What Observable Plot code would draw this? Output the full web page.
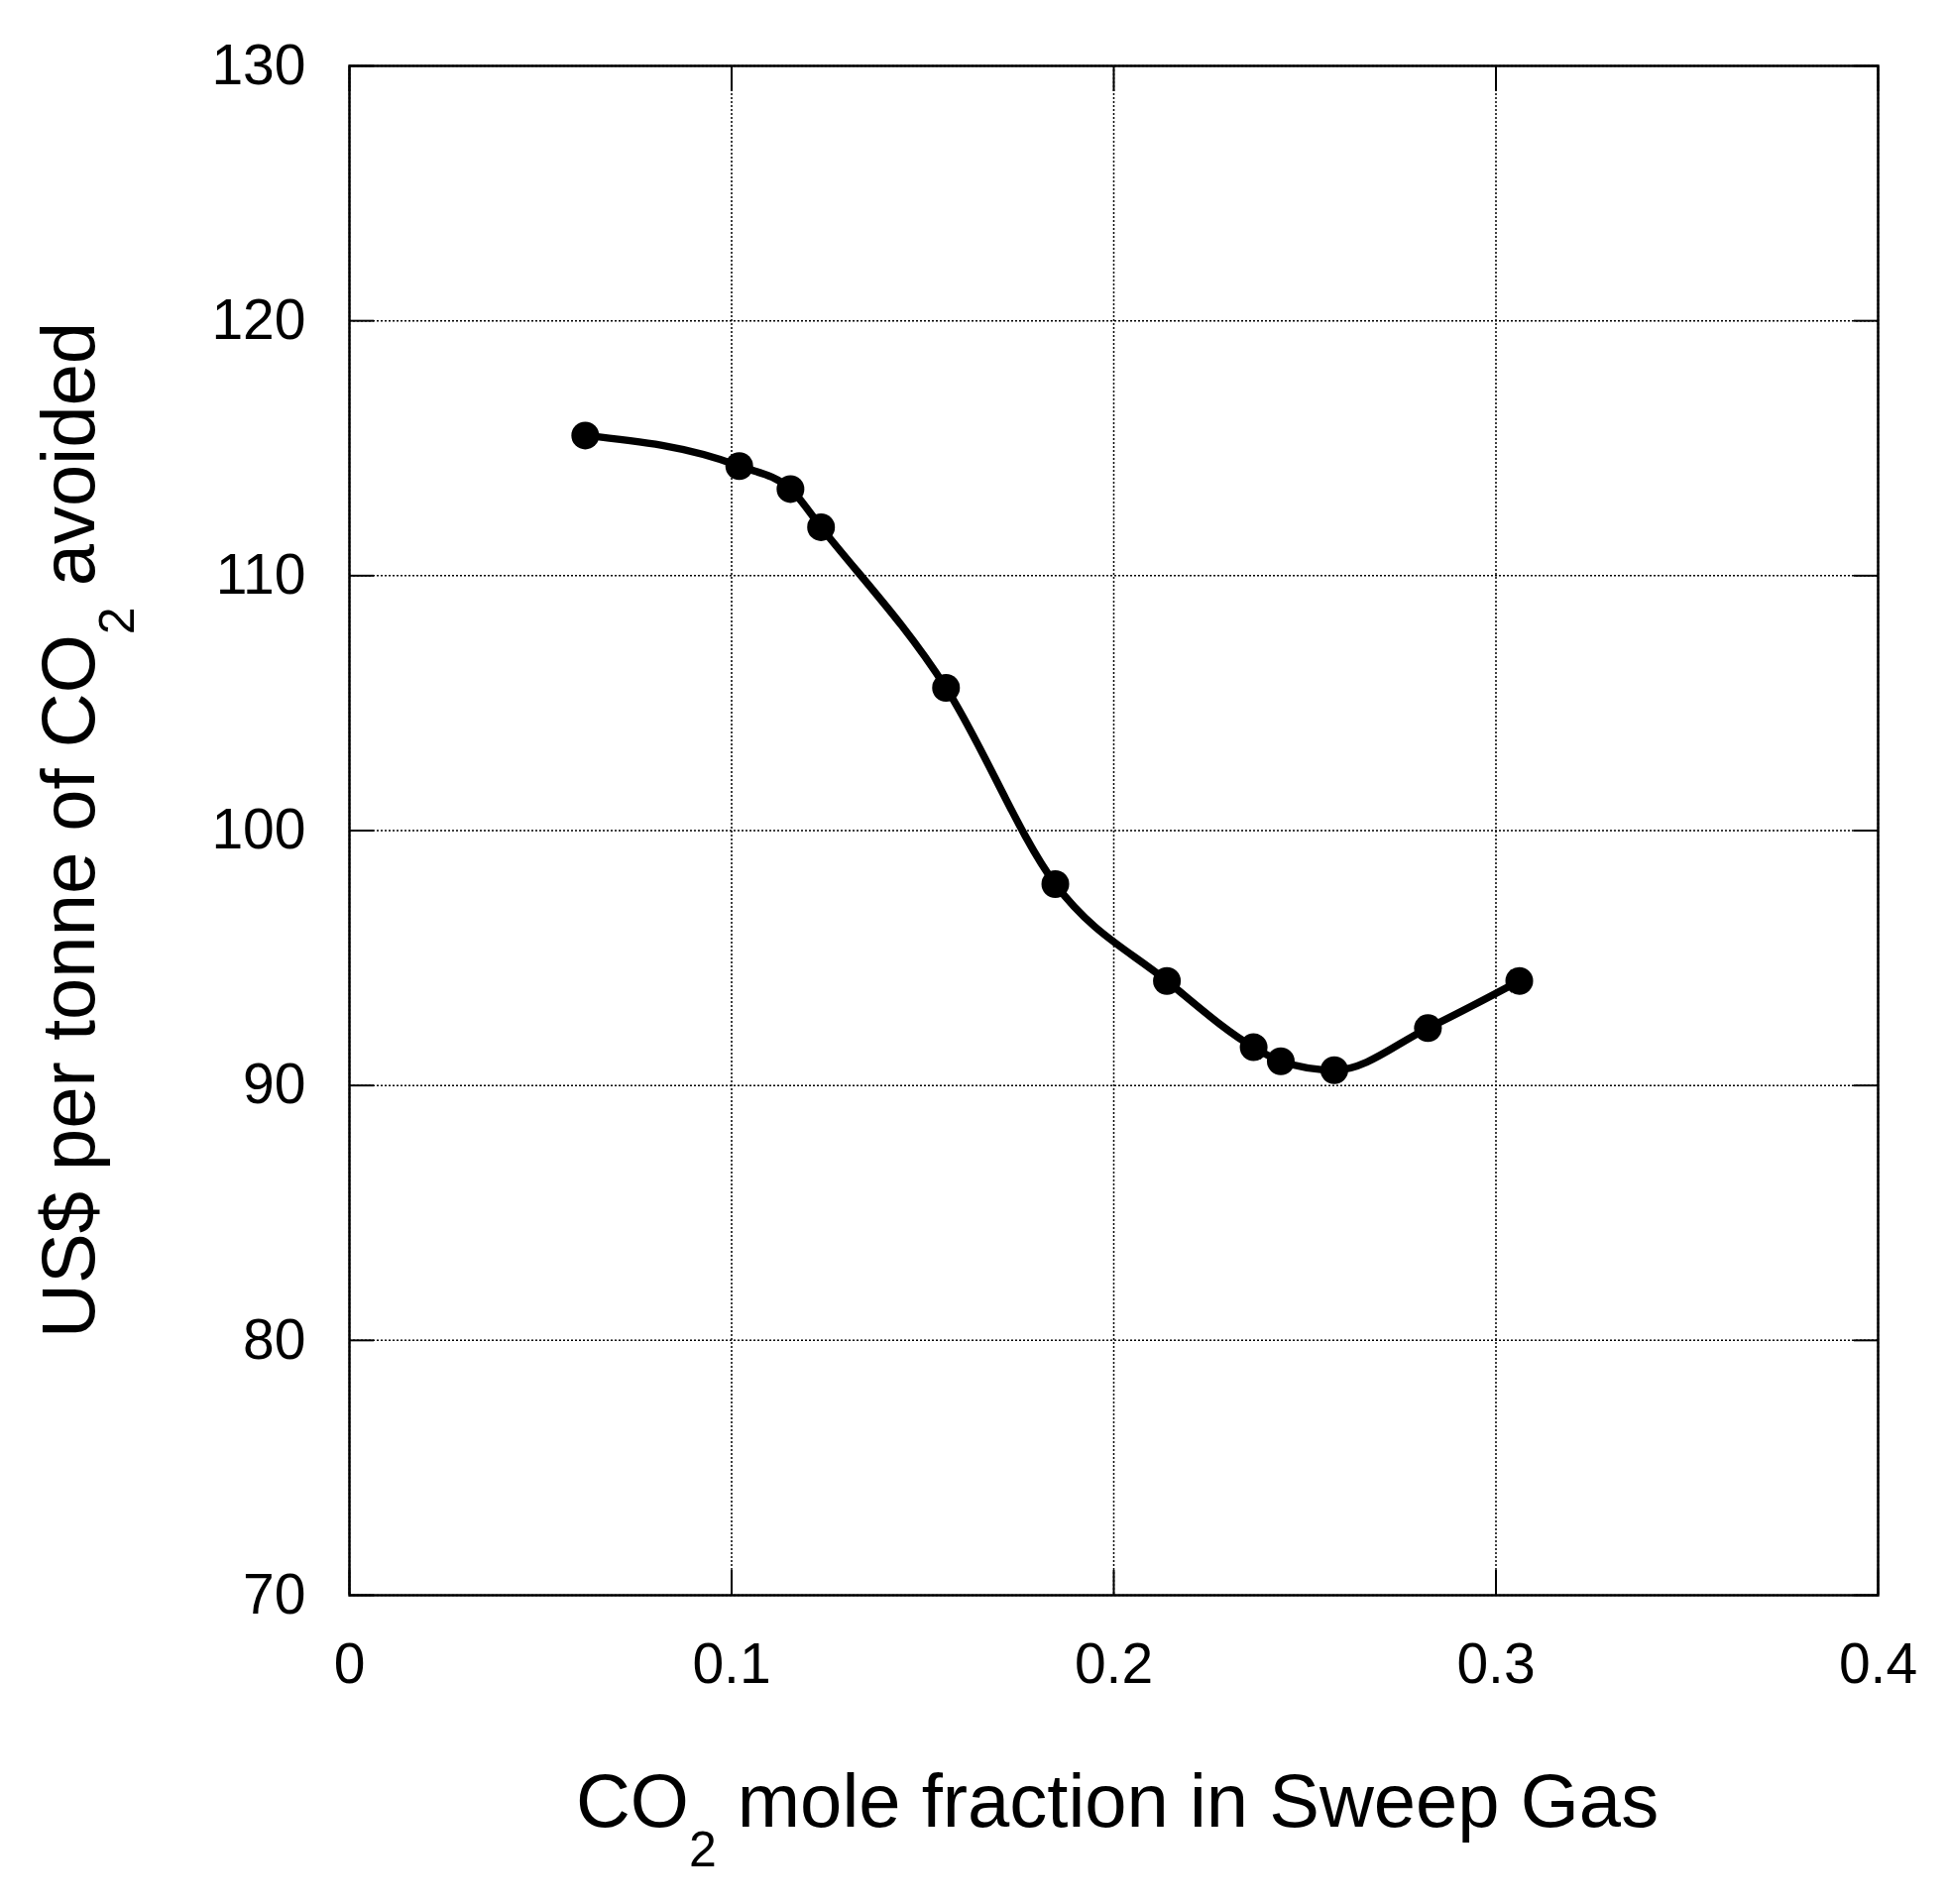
<!DOCTYPE html>
<html><head><meta charset="utf-8">
<script src="https://cdn.jsdelivr.net/npm/d3@7"></script>
<script src="https://cdn.jsdelivr.net/npm/@observablehq/plot@0.6"></script>
<style>body{margin:0;background:#fff}</style>
</head><body><div id="chart"></div>
<script>
const co2Fraction = [0.0617, 0.1020, 0.1154, 0.1234, 0.1561, 0.1847, 0.2139, 0.2366, 0.2437, 0.2577, 0.2822, 0.3061];
const costPerTonne = [115.5, 114.3, 113.4, 111.9, 105.6, 97.9, 94.1, 91.5, 90.95, 90.6, 92.25, 94.1];
const xTicks = [0, 0.1, 0.2, 0.3, 0.4];
const yTicks = [70, 80, 90, 100, 110, 120, 130];
const xTitle = ["CO", "2", " mole fraction in Sweep Gas"];
const yTitle = ["US$ per tonne of CO", "2", " avoided"];

const data = co2Fraction.map((x, i) => ({x, y: costPerTonne[i]}));
const font = "'Liberation Sans', Arial, sans-serif";

const chart = Plot.plot({
  width: 1966, height: 1921,
  marginLeft: 352, marginRight: 72, marginTop: 66, marginBottom: 312,
  style: {fontFamily: font, background: "#fff", color: "#000", overflow: "visible"},
  x: {domain: [0, 0.4]},
  y: {domain: [70, 130]},
  marks: [
    Plot.gridX(xTicks, {stroke: "#000", strokeOpacity: 1, strokeWidth: 1.5, strokeDasharray: "2,2"}),
    Plot.gridY(yTicks, {stroke: "#000", strokeOpacity: 1, strokeWidth: 1.5, strokeDasharray: "2,2"}),
    Plot.axisX(xTicks, {anchor: "bottom", tickSize: -25, tickPadding: 73, tickFormat: d => String(d), fontSize: 57, label: null, strokeWidth: 2}),
    Plot.axisX(xTicks, {anchor: "top", tickSize: -25, tickFormat: () => "", label: null, strokeWidth: 2}),
    Plot.axisY(yTicks, {anchor: "left", tickSize: -25, tickPadding: 69, tickFormat: d => String(d), fontSize: 57, label: null, strokeWidth: 2}),
    Plot.axisY(yTicks, {anchor: "right", tickSize: -25, tickFormat: () => "", label: null, strokeWidth: 2}),
    Plot.frame({stroke: "#000", strokeWidth: 2.5}),
    Plot.line(data, {x: "x", y: "y", curve: "monotone-x", stroke: "#000", strokeWidth: 7.5}),
    Plot.dot(data, {x: "x", y: "y", r: 14, fill: "#000", stroke: "none"})
  ]
});
document.getElementById("chart").appendChild(chart);

const svg = d3.select(chart);
const sx = chart.scale("x"), sy = chart.scale("y");
const xMid = (sx.range[0] + sx.range[1]) / 2 + 4;
const yMid = (sy.range[0] + sy.range[1]) / 2;
const bottom = Math.max(...sy.range);
const left = Math.min(...sx.range);

function addTitle(parts, x, y, rotate) {
  const t = svg.append("text")
    .attr("text-anchor", "middle")
    .attr("font-family", font)
    .attr("font-size", 76)
    .attr("fill", "#000")
    .attr("transform", `translate(${x},${y})` + (rotate ? " rotate(-90)" : ""));
  t.append("tspan").text(parts[0]);
  t.append("tspan").attr("font-size", 50).attr("dy", 40).text(parts[1]);
  t.append("tspan").attr("dy", -40).text(parts[2]);
}
addTitle(xTitle, xMid, bottom + 234, false);
addTitle(yTitle, left - 257, yMid, true);
</script>
</body></html>
